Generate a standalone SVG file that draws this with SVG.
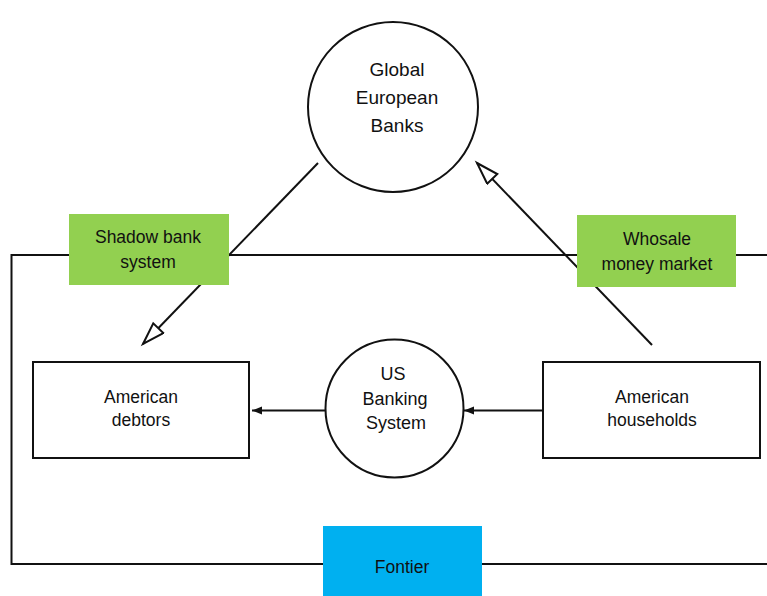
<svg xmlns="http://www.w3.org/2000/svg" width="767" height="596" viewBox="0 0 767 596">
<defs>
<marker id="open" markerUnits="userSpaceOnUse" markerWidth="30" markerHeight="20" refX="24" refY="8" orient="auto">
<path d="M2,1 L24,8 L2,15 Z" fill="#fff" stroke="#111" stroke-width="2" stroke-linejoin="miter"/>
</marker>
<marker id="solid" markerUnits="userSpaceOnUse" markerWidth="14" markerHeight="12" refX="11" refY="5" orient="auto">
<path d="M1,1 L11,5 L1,9 Z" fill="#111"/>
</marker>
</defs>
<style>
text{font-family:"Liberation Sans",Arial,sans-serif;fill:#111;text-anchor:middle}
.ln{stroke:#111;stroke-width:2;fill:none}
.node{fill:#fff;stroke:#111;stroke-width:2}
.green{fill:#92d050}
.blue{fill:#00b0f0}
</style>
<rect width="767" height="596" fill="#fff"/>
<g id="frame">
<path class="ln" d="M767,255 L11.5,255 L11.5,564 L767,564"/>
</g>
<g id="connectors">
<line class="ln" x1="318" y1="163" x2="143" y2="344" marker-end="url(#open)"/>
<line class="ln" x1="652" y1="345" x2="477" y2="163" marker-end="url(#open)"/>
<line class="ln" x1="325" y1="410.5" x2="252" y2="410.5" marker-end="url(#solid)"/>
<line class="ln" x1="543" y1="410.5" x2="464" y2="410.5" marker-end="url(#solid)"/>
</g>
<g id="global-european-banks">
<circle class="node" cx="393" cy="107" r="85"/>
<text x="397" y="76" font-size="19">Global</text>
<text x="397" y="104" font-size="19">European</text>
<text x="397" y="132" font-size="19">Banks</text>
</g>
<g id="us-banking-system">
<circle class="node" cx="394.5" cy="408.5" r="69"/>
<text x="393" y="380" font-size="18">US</text>
<text x="395" y="405" font-size="18">Banking</text>
<text x="396" y="429" font-size="18">System</text>
</g>
<g id="american-debtors">
<rect class="node" x="33" y="362" width="216" height="96"/>
<text x="141" y="403" font-size="17.5">American</text>
<text x="141" y="426" font-size="17.5">debtors</text>
</g>
<g id="american-households">
<rect class="node" x="543" y="362" width="217" height="96"/>
<text x="652" y="403" font-size="17.5">American</text>
<text x="652" y="426" font-size="17.5">households</text>
</g>
<g id="shadow-bank-system">
<rect class="green" x="69" y="214" width="160" height="71"/>
<text x="148" y="243" font-size="17.5">Shadow bank</text>
<text x="148" y="268" font-size="17.5">system</text>
</g>
<g id="whosale-money-market">
<rect class="green" x="577" y="215" width="159" height="72"/>
<text x="657" y="245" font-size="17.5">Whosale</text>
<text x="657" y="270" font-size="17.5">money market</text>
</g>
<g id="fontier">
<rect class="blue" x="323" y="526" width="159" height="70"/>
<text x="402" y="573" font-size="17.5">Fontier</text>
</g>
</svg>
